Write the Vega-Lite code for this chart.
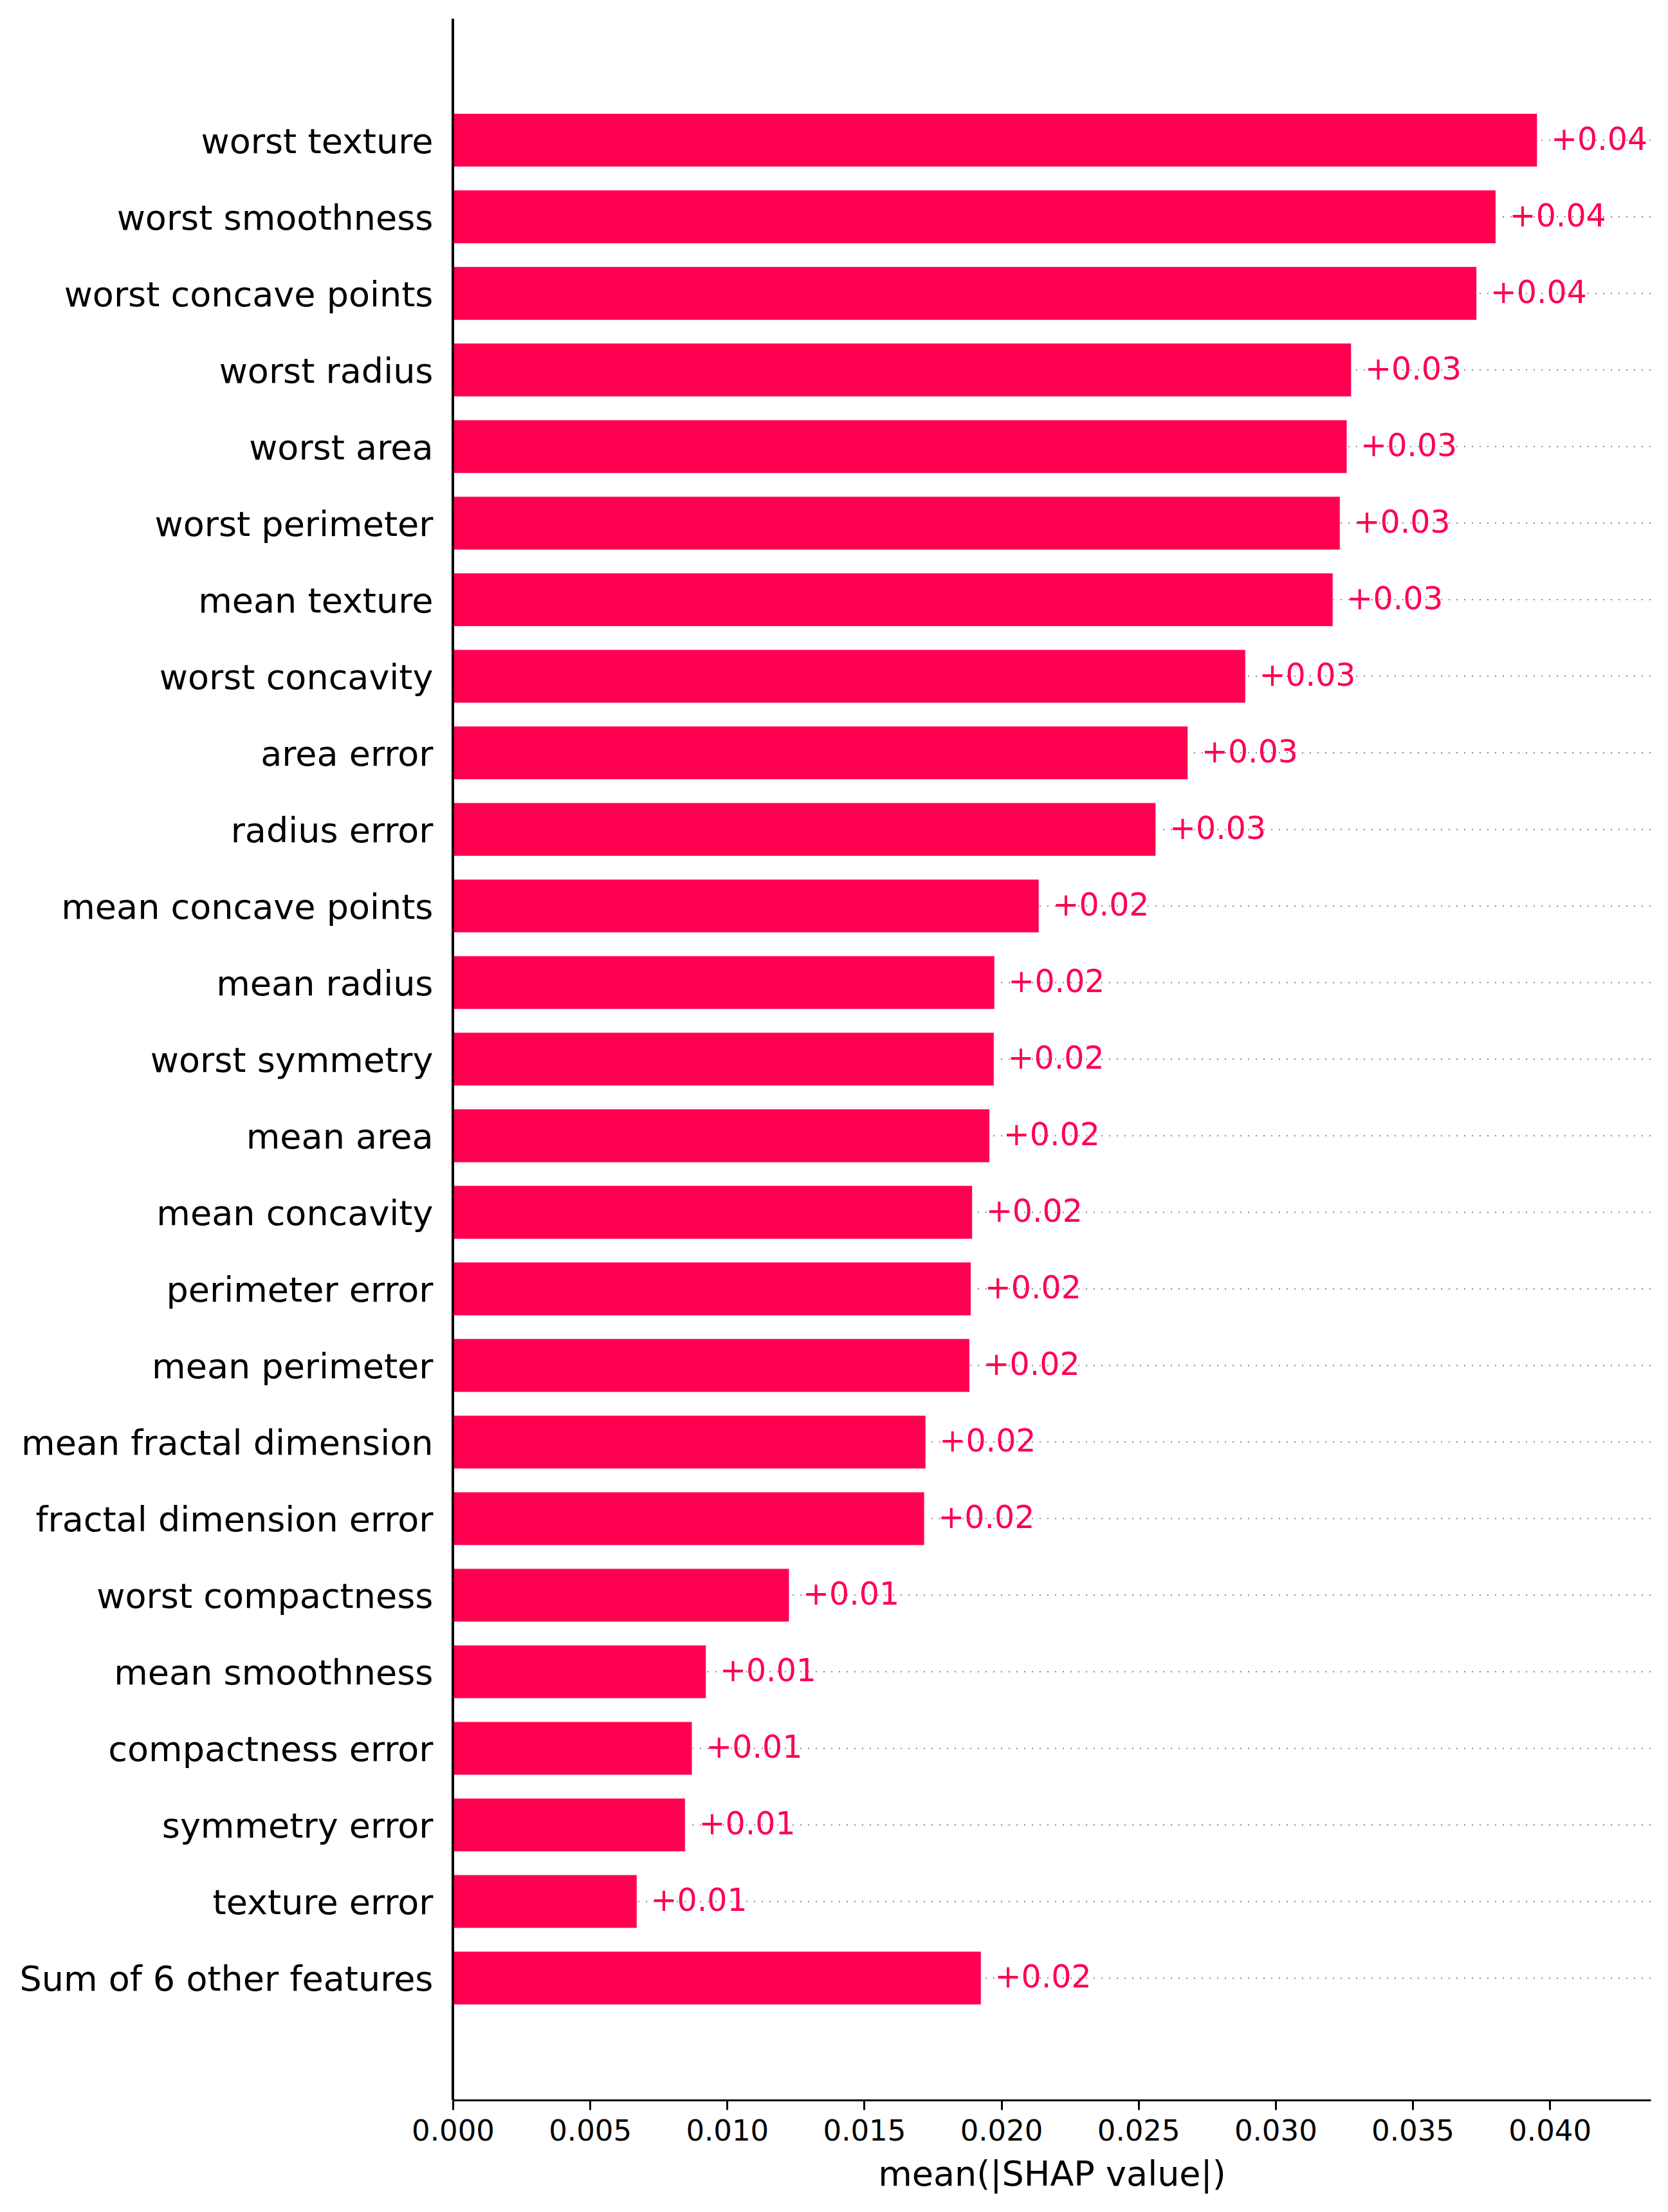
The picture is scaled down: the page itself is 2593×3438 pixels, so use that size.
{
  "$schema": "https://vega.github.io/schema/vega-lite/v6.json",
  "width": 1862,
  "height": 3235,
  "autosize": {"type": "none"},
  "padding": {"left": 704, "top": 29, "right": 27, "bottom": 174},
  "background": "white",
  "config": {"view": {"stroke": null}, "font": "DejaVu Sans"},
  "data": {
    "values": [
      {"feature": "worst texture", "value": 0.03955},
      {"feature": "worst smoothness", "value": 0.03804},
      {"feature": "worst concave points", "value": 0.03734},
      {"feature": "worst radius", "value": 0.03277},
      {"feature": "worst area", "value": 0.03261},
      {"feature": "worst perimeter", "value": 0.03236},
      {"feature": "mean texture", "value": 0.03210},
      {"feature": "worst concavity", "value": 0.02891},
      {"feature": "area error", "value": 0.02681},
      {"feature": "radius error", "value": 0.02564},
      {"feature": "mean concave points", "value": 0.02138},
      {"feature": "mean radius", "value": 0.01976},
      {"feature": "worst symmetry", "value": 0.01974},
      {"feature": "mean area", "value": 0.01958},
      {"feature": "mean concavity", "value": 0.01895},
      {"feature": "perimeter error", "value": 0.01890},
      {"feature": "mean perimeter", "value": 0.01885},
      {"feature": "mean fractal dimension", "value": 0.01725},
      {"feature": "fractal dimension error", "value": 0.01720},
      {"feature": "worst compactness", "value": 0.01227},
      {"feature": "mean smoothness", "value": 0.00924},
      {"feature": "compactness error", "value": 0.00873},
      {"feature": "symmetry error", "value": 0.00848},
      {"feature": "texture error", "value": 0.00672},
      {"feature": "Sum of 6 other features", "value": 0.01927}
    ]
  },
  "layer": [
    {
      "mark": {"type": "rule", "color": "#888888", "strokeWidth": 2, "strokeDash": [2, 10]},
      "encoding": {
        "y": {"field": "feature", "type": "nominal", "sort": null},
        "x": {"datum": 0, "type": "quantitative"},
        "x2": {"datum": 0.04368}
      }
    },
    {
      "mark": {"type": "bar", "color": "#ff0051", "stroke": "white", "strokeOpacity": 0.8, "strokeWidth": 1.5},
      "encoding": {
        "y": {
          "field": "feature",
          "type": "nominal",
          "sort": null,
          "scale": {"paddingInner": 0.3, "paddingOuter": 0.5, "range": [87.8, 3146.6]},
          "axis": {
            "title": null,
            "ticks": false,
            "grid": false,
            "domain": false,
            "labelFontSize": 54,
            "labelColor": "black",
            "labelPadding": 31,
            "labelLimit": 1000,
            "labelOffset": 4
          }
        },
        "x": {
          "field": "value",
          "type": "quantitative",
          "scale": {"domain": [0, 0.04368], "nice": false, "zero": true},
          "axis": {
            "title": "mean(|SHAP value|)",
            "values": [0, 0.005, 0.01, 0.015, 0.02, 0.025, 0.03, 0.035, 0.04],
            "format": ".3f",
            "grid": false,
            "domainColor": "black",
            "domainWidth": 3,
            "tickColor": "black",
            "tickWidth": 3,
            "tickSize": 15,
            "labelFontSize": 45,
            "labelColor": "black",
            "labelPadding": 11,
            "labelFlush": false,
            "titleFontSize": 54,
            "titleFontWeight": "normal",
            "titleColor": "black",
            "titleBaseline": "alphabetic",
            "titleY": 132,
            "zindex": 1
          }
        }
      }
    },
    {
      "mark": {"type": "text", "align": "left", "baseline": "middle", "dx": 21, "color": "#ff0051", "fontSize": 49},
      "encoding": {
        "y": {"field": "feature", "type": "nominal", "sort": null},
        "x": {"field": "value", "type": "quantitative"},
        "text": {"field": "value", "type": "quantitative", "format": "+.2f"}
      }
    },
    {
      "mark": {"type": "rule", "color": "black", "strokeWidth": 3},
      "encoding": {
        "x": {"datum": 0, "type": "quantitative"}
      }
    }
  ]
}
